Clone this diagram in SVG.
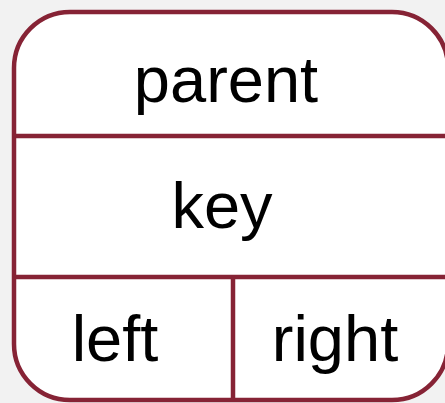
<svg xmlns="http://www.w3.org/2000/svg" width="445" height="403" viewBox="0 0 445 403">
<style>
.ln{stroke:#862335;stroke-width:4.5;fill:none}
.box{stroke:#862335;stroke-width:4.5;fill:#fff}
.t{font-family:"Liberation Sans",Arial,sans-serif;font-size:65px;fill:#000;text-anchor:middle}
</style>
<rect x="0" y="0" width="445" height="403" fill="#f2f2f2"/>
<g id="node">
<rect x="14" y="12" width="434" height="388" rx="56" ry="56" class="box"/>
<line x1="14" y1="136" x2="448" y2="136" class="ln"/>
<line x1="14" y1="277" x2="448" y2="277" class="ln"/>
<line x1="233" y1="277" x2="233" y2="400" class="ln"/>
<text class="t" x="226" y="102">parent</text>
<text class="t" x="222" y="228">key</text>
<text class="t" x="115" y="361">left</text>
<text class="t" x="335" y="361">right</text>
</g>
<g id="connectors"/>
</svg>
